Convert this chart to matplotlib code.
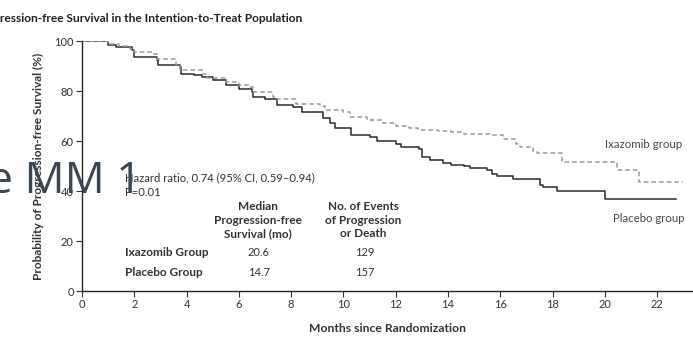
import matplotlib

matplotlib.use("Agg")
import matplotlib.pyplot as plt

# Kaplan-Meier steps (months, % progression-free)
placebo_t = [0, 1.0, 1.3, 1.9, 2.0, 2.86, 2.9, 3.75, 3.8, 4.3, 4.6, 5.0, 5.5, 6.0,
             6.5, 6.55, 7.0, 7.45, 8.07, 8.4, 9.2, 9.5, 9.68, 10.3, 11.0, 11.27,
             12.0, 12.2, 12.9, 13.0, 13.3, 13.8, 14.1, 14.6, 14.85, 15.5, 15.67,
             15.86, 16.5, 17.5, 17.64, 18.15, 20.0, 22.72]
placebo_s = [100, 98.5, 97.5, 96.4, 93.6, 92.4, 90.4, 89.7, 87.0, 86.4, 85.7, 84.5,
             82.4, 81.0, 79.7, 77.7, 77.0, 74.4, 73.7, 71.7, 69.3, 67.2, 65.3, 62.4,
             61.5, 60.0, 59.0, 57.7, 56.8, 53.7, 52.4, 51.2, 50.4, 50.1, 49.1, 48.4,
             47.0, 46.0, 44.7, 42.4, 41.5, 40.1, 37.0, 37.0]

ixa_t = [0, 1.0, 1.4, 1.84, 2.0, 2.73, 2.86, 3.6, 3.75, 4.64, 4.8, 5.5, 6.0, 6.43,
         6.55, 7.32, 7.45, 8.2, 9.1, 9.3, 10.0, 10.25, 10.9, 11.5, 12.0, 12.5,
         12.85, 13.6, 14.1, 14.6, 15.6, 16.1, 16.6, 16.75, 17.26, 17.4, 18.35,
         20.45, 21.3, 23.0]
ixa_s = [100, 99.0, 98.0, 97.0, 95.7, 95.0, 93.0, 90.4, 88.4, 87.0, 85.2, 83.7,
         82.5, 81.7, 79.7, 77.7, 77.0, 75.0, 74.1, 72.4, 71.5, 69.7, 68.4, 67.1,
         66.1, 65.1, 64.4, 64.0, 63.5, 63.0, 62.4, 61.0, 59.0, 57.5, 56.1, 55.1,
         51.5, 48.4, 43.7, 43.7]

x_ticks = list(range(0, 23, 2))
y_ticks = [0, 20, 40, 60, 80, 100]

groups = ["Ixazomib Group", "Placebo Group"]
median_pfs = ["20.6", "14.7"]
n_events = ["129", "157"]

plt.rcParams["font.family"] = ["Lato", "DejaVu Sans"]
TXT = "#333333"

fig = plt.figure(figsize=(6.93, 3.39), dpi=100)
ax = fig.add_axes([82 / 693, 48 / 339, 1 - 82 / 693, 250 / 339])

ax.step(placebo_t, placebo_s, where="post", color="#2b2b2b", lw=1.1)
ax.step(ixa_t, ixa_s, where="post", color="#9a9a9a", lw=1.1, ls=(0, (3, 2)))

ax.set_xlim(0, 23.37)
ax.set_ylim(0, 100)
ax.set_xticks(x_ticks)
ax.set_yticks(y_ticks)
for s in ("top", "right"):
    ax.spines[s].set_visible(False)
for s in ("left", "bottom"):
    ax.spines[s].set_linewidth(1.0)
    ax.spines[s].set_color("#222222")
ax.tick_params(length=4, width=0.8, labelsize=8, colors=TXT, pad=2)
ax.set_xlabel("Months since Randomization", fontsize=8.7, fontweight="bold",
              color=TXT, labelpad=9)
ax.set_ylabel("Probability of Progression-free Survival (%)", fontsize=8.6,
              fontweight="bold", color=TXT, labelpad=7)

# annotation block
ax.text(1.65, 45.2, "Hazard ratio, 0.74 (95% CI, 0.59\u20130.94)", fontsize=8.1,
        color=TXT, va="center")
ax.text(1.65, 39.2, "P=0.01", fontsize=8.1, color=TXT, va="center")
ax.text(6.73, 28.4, "Median\nProgression-free\nSurvival (mo)", fontsize=8.5,
        fontweight="bold", color=TXT, ha="center", va="center", linespacing=1.3)
ax.text(10.75, 28.4, "No. of Events\nof Progression\nor Death", fontsize=8.5,
        fontweight="bold", color=TXT, ha="center", va="center", linespacing=1.3)
for i, (g, m, n) in enumerate(zip(groups, median_pfs, n_events)):
    yy = 15.2 - i * 7.6
    ax.text(1.65, yy, g, fontsize=8.5, fontweight="bold", color=TXT, va="center")
    ax.text(6.77, yy, m, fontsize=8, color=TXT, ha="center", va="center")
    ax.text(10.8, yy, n, fontsize=8, color=TXT, ha="center", va="center")

ax.text(20.0, 58.4, "Ixazomib group", fontsize=8.3, color="#4a4452", va="center")
ax.text(20.3, 29.2, "Placebo group", fontsize=8.2, color="#4a4452", va="center")

# panel title, cut off at the left edge like the slide crop:
# shift it so that "Progr" falls off the canvas and "ession" starts near x=4px
title_kw = dict(fontsize=8.6, fontweight="bold", color="#222222", va="center")
renderer = fig.canvas.get_renderer()
probe = fig.text(0, 0, "Progr", **title_kw)
cut_w = probe.get_window_extent(renderer).width
probe.remove()
fig.text((4 - cut_w) / 693, 1 - 18 / 339,
         "Progression-free Survival in the Intention-to-Treat Population",
         ha="left", **title_kw)

# slide title fragment overlapping the figure
fig.text(-12 / 693, 1 - 193 / 339, "e MM 1", fontsize=32, color="#3b4650",
         family=["Open Sans", "DejaVu Sans"], ha="left", va="baseline")

fig.savefig("out.png", dpi=100)
